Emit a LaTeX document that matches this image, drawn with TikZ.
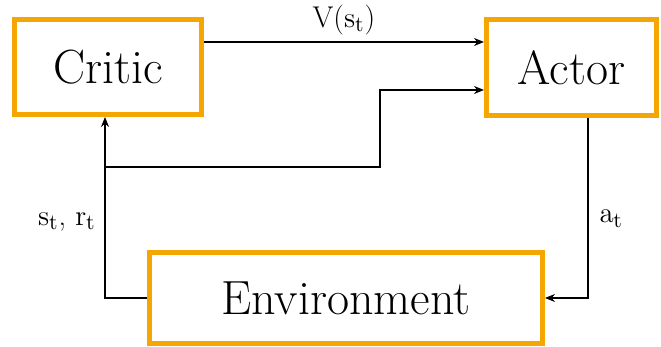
\documentclass[tikz,border=0pt]{standalone}
\usepackage{tikz}
\usetikzlibrary{positioning,arrows.meta,calc}
\definecolor{boxorange}{RGB}{245,166,0}
\tikzset{
  block/.style={draw=boxorange,line width=2.5pt,fill=white,inner sep=0pt,
    font=\fontsize{24}{28}\selectfont},
  link/.style={-{Stealth[length=5pt,width=4pt]},line width=0.6pt},
  lbl/.style={font=\fontsize{15}{17}\selectfont}
}
\begin{document}
\begin{tikzpicture}[x=0.5pt,y=-0.5pt]
 \useasboundingbox (0,0) rectangle (661,347);
 % blocks
 \node[block,minimum width=93.5pt,minimum height=47.5pt] (critic) at (108,67) {Critic};
 \node[block,minimum width=85pt,minimum height=48pt] (actor) at (571.5,67.5) {Actor};
 \node[block,minimum width=196.5pt,minimum height=45.5pt] (env) at (346,298) {Environment};
 % signals
 \coordinate (tap) at (105,167);
 \coordinate (bend) at (380,167);
 \draw[link] ([yshift=12.5pt]critic.east) -- ([yshift=12.5pt]critic.east -| actor.west)
   node[lbl,midway,above=0pt] {V($\mathrm{s_t}$)};
 \draw[link] (env.west) -| node[lbl,pos=0.71,left=1pt] {$\mathrm{s_t}$, $\mathrm{r_t}$} (critic.south -| tap);
 \draw[link] (tap) -- (bend) |- ([yshift=-11.25pt]actor.west);
 \draw[link] ([xshift=8.25pt]actor.south) |- node[lbl,pos=0.28,right=2pt] {$\mathrm{a_t}$} (env.east);
\end{tikzpicture}
\end{document}
